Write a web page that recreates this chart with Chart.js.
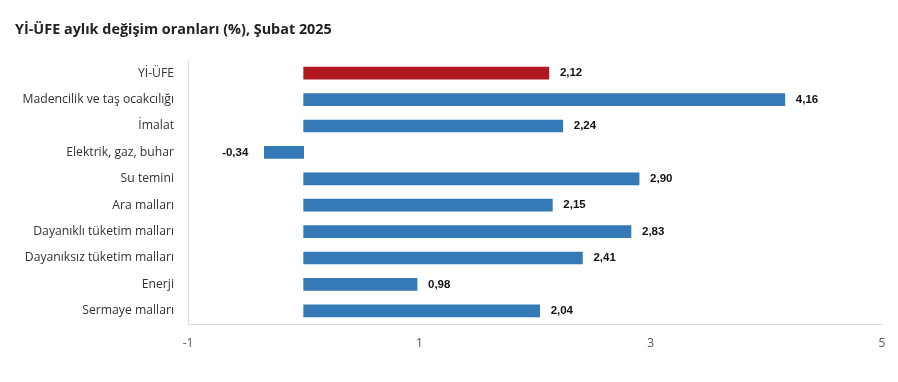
<!DOCTYPE html>
<html>
<head>
<meta charset="utf-8">
<script src="https://cdn.jsdelivr.net/npm/chart.js@4/dist/chart.umd.min.js"></script>
<style>
  html, body { margin: 0; padding: 0; background: #fff; }
  #wrap { position: relative; width: 898px; height: 382px; }
  #title { position: absolute; left: 15px; top: 19px; font-family: "Open Sans", sans-serif; font-weight: 700; font-size: 14.4px; color: #222; white-space: nowrap; }
</style>
</head>
<body>
<div id="wrap">
  <div id="title">Yİ-ÜFE aylık değişim oranları (%), Şubat 2025</div>
  <canvas id="c" width="898" height="382"></canvas>
</div>
<script>
const categories = ["Yİ-ÜFE", "Madencilik ve taş ocakcılığı", "İmalat", "Elektrik, gaz, buhar", "Su temini", "Ara malları", "Dayanıklı tüketim malları", "Dayanıksız tüketim malları", "Enerji", "Sermaye malları"];
const values = [2.12, 4.16, 2.24, -0.34, 2.90, 2.15, 2.83, 2.41, 0.98, 2.04];
const tickValues = [-1, 1, 3, 5];

const colors = values.map((v, i) => i === 0 ? "#B0181F" : "#337AB7");

const labelPlugin = {
  id: "valueLabels",
  afterDatasetsDraw(chart) {
    const ctx = chart.ctx;
    const meta = chart.getDatasetMeta(0);
    ctx.save();
    ctx.font = "bold 11.5px 'Liberation Sans', Arial, sans-serif";
    ctx.fillStyle = "#111";
    ctx.textBaseline = "middle";
    meta.data.forEach((bar, i) => {
      const v = values[i];
      const txt = v.toFixed(2).replace(".", ",");
      if (v >= 0) {
        ctx.textAlign = "left";
        ctx.fillText(txt, bar.x + 11, bar.y);
      } else {
        ctx.textAlign = "right";
        ctx.fillText(txt, bar.x - 16, bar.y);
      }
    });
    ctx.restore();
  }
};

new Chart(document.getElementById("c"), {
  type: "bar",
  data: {
    labels: categories,
    datasets: [{
      data: values,
      backgroundColor: colors,
      borderWidth: 0,
      barThickness: 12
    }]
  },
  options: {
    indexAxis: "y",
    responsive: false,
    animation: false,
    layout: { padding: { top: 60, right: 16, left: 0, bottom: 0 } },
    plugins: { legend: { display: false }, tooltip: { enabled: false } },
    scales: {
      x: {
        min: -1, max: 5,
        afterBuildTicks(scale) { scale.ticks = tickValues.map(v => ({ value: v })); },
        afterFit(scale) { scale.height = 58; },
        grid: { display: false, drawTicks: false },
        border: { display: true, color: "#dddddd", width: 1 },
        ticks: {
          padding: 12,
          color: "#555",
          font: { family: "'Open Sans', sans-serif", size: 12 },
          callback: v => String(v)
        }
      },
      y: {
        afterFit(scale) { scale.width = 188; },
        grid: { display: false, drawTicks: false },
        border: { display: true, color: "#dddddd", width: 1 },
        ticks: {
          padding: 14,
          color: "#333",
          font: { family: "'Open Sans', sans-serif", size: 12.2 }
        }
      }
    }
  },
  plugins: [labelPlugin]
});
</script>
</body>
</html>
